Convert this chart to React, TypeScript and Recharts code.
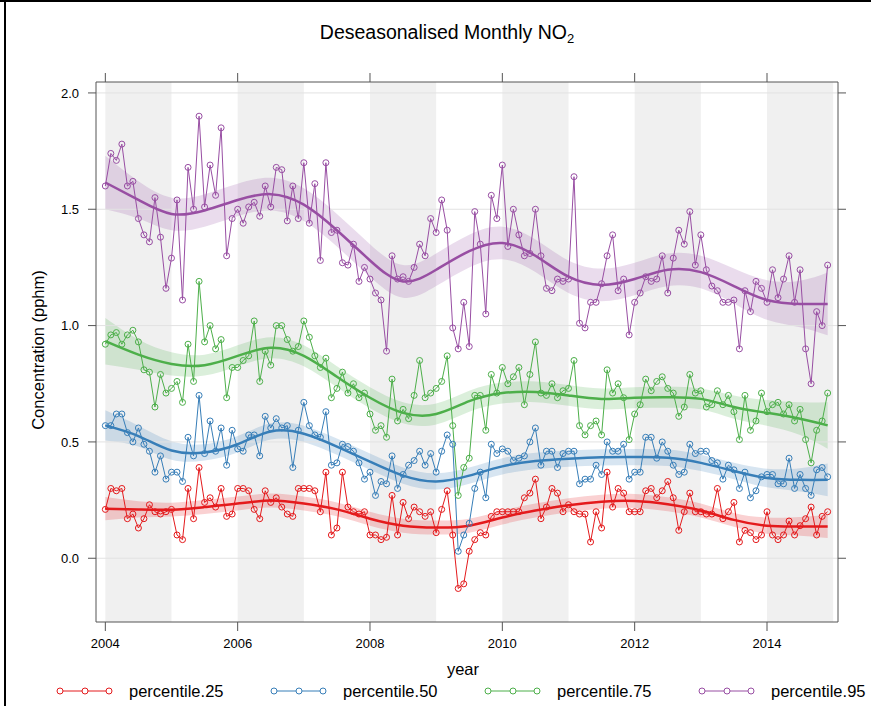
import React from 'react';
import { ComposedChart, Line, Area, XAxis, YAxis, ReferenceArea, ReferenceLine } from 'recharts';

// monthly deseasonalised values, Jan 2004 .. Dec 2014
const startYear = 2004;

const p25 = [
  0.21, 0.30, 0.29, 0.30, 0.17, 0.19, 0.13, 0.17, 0.23, 0.20, 0.19, 0.20,
  0.21, 0.10, 0.08, 0.30, 0.17, 0.39, 0.24, 0.26, 0.22, 0.30, 0.18, 0.19,
  0.30, 0.30, 0.29, 0.21, 0.17, 0.29, 0.24, 0.26, 0.22, 0.19, 0.18, 0.30,
  0.30, 0.30, 0.29, 0.20, 0.37, 0.10, 0.13, 0.37, 0.22, 0.20, 0.19, 0.20,
  0.10, 0.10, 0.08, 0.09, 0.27, 0.10, 0.24, 0.17, 0.22, 0.20, 0.18, 0.20,
  0.11, 0.21, 0.29, 0.10, -0.13, -0.11, 0.03, 0.08, 0.11, 0.10, 0.18, 0.20,
  0.20, 0.20, 0.20, 0.20, 0.26, 0.28, 0.34, 0.17, 0.22, 0.30, 0.28, 0.20,
  0.23, 0.20, 0.19, 0.19, 0.07, 0.20, 0.13, 0.37, 0.22, 0.30, 0.28, 0.20,
  0.20, 0.20, 0.29, 0.30, 0.26, 0.29, 0.33, 0.26, 0.12, 0.20, 0.28, 0.20,
  0.20, 0.19, 0.19, 0.30, 0.17, 0.20, 0.24, 0.07, 0.12, 0.11, 0.08, 0.10,
  0.20, 0.10, 0.08, 0.10, 0.16, 0.10, 0.14, 0.17, 0.22, 0.10, 0.18, 0.20,
];

const p50 = [
  0.57, 0.57, 0.62, 0.62, 0.54, 0.50, 0.56, 0.49, 0.46, 0.37, 0.44, 0.34,
  0.37, 0.37, 0.33, 0.52, 0.44, 0.70, 0.45, 0.59, 0.46, 0.56, 0.40, 0.55,
  0.47, 0.46, 0.53, 0.53, 0.44, 0.61, 0.56, 0.60, 0.56, 0.57, 0.39, 0.55,
  0.67, 0.57, 0.53, 0.52, 0.63, 0.40, 0.41, 0.49, 0.48, 0.46, 0.41, 0.34,
  0.37, 0.27, 0.33, 0.32, 0.44, 0.30, 0.36, 0.40, 0.42, 0.46, 0.40, 0.45,
  0.37, 0.46, 0.53, 0.49, 0.03, 0.10, 0.15, 0.30, 0.37, 0.26, 0.49, 0.45,
  0.47, 0.46, 0.42, 0.43, 0.44, 0.50, 0.56, 0.40, 0.46, 0.46, 0.39, 0.45,
  0.46, 0.46, 0.32, 0.34, 0.34, 0.40, 0.36, 0.50, 0.46, 0.46, 0.49, 0.34,
  0.37, 0.37, 0.52, 0.52, 0.43, 0.50, 0.46, 0.40, 0.36, 0.37, 0.49, 0.45,
  0.46, 0.46, 0.42, 0.41, 0.34, 0.40, 0.38, 0.30, 0.37, 0.26, 0.29, 0.35,
  0.36, 0.36, 0.32, 0.32, 0.43, 0.30, 0.36, 0.30, 0.27, 0.38, 0.39, 0.35,
];

const p75 = [
  0.92, 0.96, 0.97, 0.92, 0.96, 0.98, 0.93, 0.81, 0.80, 0.65, 0.79, 0.71,
  0.73, 0.76, 0.67, 0.92, 0.76, 1.19, 0.93, 1.00, 0.90, 0.94, 0.69, 0.82,
  0.82, 0.85, 0.87, 1.02, 0.76, 0.89, 0.83, 1.00, 1.00, 0.94, 0.89, 0.91,
  1.02, 0.95, 0.87, 0.82, 0.86, 0.69, 0.73, 0.80, 0.71, 0.75, 0.69, 0.71,
  0.62, 0.55, 0.57, 0.52, 0.77, 0.59, 0.64, 0.60, 0.70, 0.85, 0.69, 0.71,
  0.73, 0.76, 0.87, 0.57, 0.27, 0.39, 0.43, 0.70, 0.70, 0.55, 0.79, 0.71,
  0.82, 0.75, 0.78, 0.82, 0.66, 0.79, 0.93, 0.71, 0.70, 0.75, 0.69, 0.72,
  0.73, 0.85, 0.57, 0.53, 0.57, 0.59, 0.53, 0.81, 0.71, 0.75, 0.69, 0.51,
  0.62, 0.66, 0.77, 0.72, 0.76, 0.78, 0.73, 0.71, 0.61, 0.65, 0.79, 0.71,
  0.72, 0.65, 0.66, 0.72, 0.66, 0.70, 0.63, 0.51, 0.70, 0.55, 0.59, 0.71,
  0.63, 0.66, 0.67, 0.62, 0.66, 0.59, 0.64, 0.51, 0.41, 0.55, 0.59, 0.71,
];

const p95 = [
  1.60, 1.74, 1.71, 1.78, 1.60, 1.62, 1.46, 1.39, 1.36, 1.55, 1.38, 1.16,
  1.29, 1.54, 1.11, 1.68, 1.50, 1.90, 1.51, 1.69, 1.56, 1.85, 1.30, 1.46,
  1.50, 1.44, 1.51, 1.53, 1.47, 1.60, 1.51, 1.68, 1.67, 1.45, 1.60, 1.46,
  1.70, 1.44, 1.61, 1.28, 1.70, 1.40, 1.41, 1.27, 1.26, 1.35, 1.19, 1.25,
  1.20, 1.14, 1.11, 0.89, 1.30, 1.20, 1.21, 1.19, 1.25, 1.35, 1.30, 1.46,
  1.40, 1.54, 1.41, 0.99, 0.90, 1.10, 0.91, 1.49, 1.35, 1.05, 1.56, 1.46,
  1.69, 1.34, 1.50, 1.39, 1.30, 1.31, 1.50, 1.30, 1.16, 1.15, 1.20, 1.19,
  1.20, 1.64, 1.01, 0.99, 1.10, 1.10, 1.18, 1.30, 1.39, 1.15, 1.20, 0.96,
  1.10, 1.14, 1.21, 1.19, 1.20, 1.30, 1.14, 1.29, 1.41, 1.35, 1.49, 1.26,
  1.39, 1.24, 1.17, 1.15, 1.10, 1.10, 1.11, 0.90, 1.15, 1.06, 1.19, 1.16,
  1.10, 1.24, 1.12, 1.20, 1.30, 1.10, 1.24, 0.90, 0.75, 1.06, 1.00, 1.26,
];

// smooth trend (every half year) and half width of its confidence band
const smoothYears = [
  2004, 2004.5, 2005, 2005.5, 2006, 2006.5, 2007, 2007.5, 2008, 2008.5, 2009, 2009.5,
  2010, 2010.5, 2011, 2011.5, 2012, 2012.5, 2013, 2013.5, 2014, 2014.5, 2014.917,
];
const fit25 = [0.213, 0.21, 0.209, 0.22, 0.235, 0.248, 0.235, 0.21, 0.17, 0.14, 0.132, 0.14,
  0.175, 0.205, 0.228, 0.243, 0.246, 0.232, 0.205, 0.165, 0.14, 0.137, 0.137];
const ci25 = [0.05, 0.035, 0.03, 0.03, 0.03, 0.03, 0.03, 0.03, 0.03, 0.03, 0.03, 0.03,
  0.03, 0.03, 0.03, 0.03, 0.03, 0.03, 0.03, 0.03, 0.035, 0.04, 0.05];
const fit50 = [0.571, 0.525, 0.463, 0.455, 0.49, 0.545, 0.535, 0.48, 0.415, 0.355, 0.33, 0.355,
  0.395, 0.418, 0.428, 0.434, 0.435, 0.432, 0.41, 0.375, 0.345, 0.337, 0.337];
const ci50 = [0.065, 0.045, 0.04, 0.035, 0.035, 0.035, 0.035, 0.035, 0.035, 0.035, 0.035, 0.035,
  0.035, 0.035, 0.035, 0.035, 0.035, 0.035, 0.035, 0.035, 0.04, 0.05, 0.07];
const fit75 = [0.933, 0.875, 0.835, 0.83, 0.87, 0.905, 0.87, 0.78, 0.69, 0.625, 0.62, 0.675,
  0.71, 0.715, 0.70, 0.685, 0.69, 0.692, 0.685, 0.65, 0.625, 0.60, 0.571];
const ci75 = [0.1, 0.065, 0.05, 0.045, 0.045, 0.045, 0.045, 0.045, 0.045, 0.045, 0.045, 0.045,
  0.045, 0.045, 0.045, 0.045, 0.045, 0.045, 0.045, 0.05, 0.055, 0.07, 0.1];
const fit95 = [1.615, 1.54, 1.48, 1.495, 1.54, 1.565, 1.52, 1.41, 1.28, 1.19, 1.24, 1.32,
  1.355, 1.30, 1.21, 1.175, 1.20, 1.24, 1.23, 1.17, 1.11, 1.093, 1.093];
const ci95 = [0.115, 0.08, 0.07, 0.07, 0.07, 0.07, 0.07, 0.07, 0.07, 0.07, 0.07, 0.07,
  0.07, 0.07, 0.07, 0.07, 0.07, 0.07, 0.07, 0.075, 0.085, 0.1, 0.135];

const xTicks = [2004, 2006, 2008, 2010, 2012, 2014];
const yTicks = [0, 0.5, 1, 1.5, 2];
const shadedYears = [2004, 2006, 2008, 2010, 2012, 2014];

const X_MIN = 2003.859;
const X_MAX = 2015.073;
const Y_MIN = -0.274;
const Y_MAX = 2.047;

const series = [
  { key: 'p25', name: 'percentile.25', color: '#E41A1C', fit: fit25, ci: ci25 },
  { key: 'p50', name: 'percentile.50', color: '#377EB8', fit: fit50, ci: ci50 },
  { key: 'p75', name: 'percentile.75', color: '#4DAF4A', fit: fit75, ci: ci75 },
  { key: 'p95', name: 'percentile.95', color: '#984EA3', fit: fit95, ci: ci95 },
];

const monthly = p25.map((v, i) => ({
  date: startYear + i / 12,
  p25: v,
  p50: p50[i],
  p75: p75[i],
  p95: p95[i],
}));

const smooth = smoothYears.map((d, i) => {
  const row: Record<string, any> = { date: d };
  series.forEach((s) => {
    row['fit_' + s.key] = s.fit[i];
    row['ci_' + s.key] = [s.fit[i] - s.ci[i], s.fit[i] + s.ci[i]];
  });
  return row;
});

const font = "'Liberation Sans', Arial, sans-serif";
const frame = '#555555';
const noTick = () => <g />;

const LegendKey = ({ color }: { color: string }) => (
  <svg width={58} height={12} style={{ display: 'block' }}>
    <line x1={3} y1={6} x2={55} y2={6} stroke={color} strokeWidth={1} />
    {[4, 29, 53].map((cx) => (
      <circle key={cx} cx={cx} cy={6} r={3} fill="white" stroke={color} strokeWidth={1} />
    ))}
  </svg>
);

export default function App() {
  return (
    <div
      style={{
        position: 'absolute',
        left: 0,
        top: 0,
        width: 871,
        height: 706,
        background: 'white',
        fontFamily: font,
        overflow: 'hidden',
      }}
    >
      {/* outer frame (top and left edges only) */}
      <div style={{ position: 'absolute', left: 0, top: 0, width: 871, height: 2, background: '#000' }} />
      <div style={{ position: 'absolute', left: 4, top: 0, width: 2, height: 706, background: '#000' }} />

      <div
        style={{
          position: 'absolute',
          left: 247,
          top: 20,
          width: 400,
          textAlign: 'center',
          fontSize: 19.5,
          color: '#000',
          lineHeight: '24px',
        }}
      >
        Deseasonalised Monthly NO<sub style={{ fontSize: 13, verticalAlign: -4, lineHeight: 0 }}>2</sub>
      </div>

      <ComposedChart
        width={871}
        height={706}
        data={monthly}
        margin={{ top: 72, right: 23, bottom: 54, left: 40 }}
        style={{ position: 'absolute', left: 0, top: 0 }}
      >
        <XAxis
          dataKey="date"
          type="number"
          domain={[X_MIN, X_MAX]}
          allowDataOverflow
          ticks={xTicks}
          tickSize={9}
          tickMargin={8}
          height={30}
          stroke={frame}
          tick={{ fill: '#000', fontSize: 13, fontFamily: font }}
        />
        <XAxis
          xAxisId="top"
          orientation="top"
          dataKey="date"
          type="number"
          domain={[X_MIN, X_MAX]}
          allowDataOverflow
          ticks={xTicks}
          tickSize={9}
          height={10}
          stroke={frame}
          tick={noTick}
        />
        <YAxis
          type="number"
          domain={[Y_MIN, Y_MAX]}
          allowDataOverflow
          ticks={yTicks}
          tickFormatter={(v: number) => v.toFixed(1)}
          tickSize={8}
          tickMargin={9}
          width={56}
          stroke={frame}
          tick={{ fill: '#000', fontSize: 13, fontFamily: font }}
        />
        <YAxis
          yAxisId="right"
          orientation="right"
          type="number"
          domain={[Y_MIN, Y_MAX]}
          allowDataOverflow
          ticks={yTicks}
          tickSize={8}
          width={10}
          stroke={frame}
          tick={noTick}
        />

        {shadedYears.map((y) => (
          <ReferenceArea
            key={y}
            x1={y}
            x2={Math.min(y + 1, X_MAX)}
            y1={Y_MIN}
            y2={Y_MAX}
            fill="#f0f0f0"
            fillOpacity={1}
            stroke="none"
            ifOverflow="hidden"
          />
        ))}
        {yTicks.map((v) => (
          <ReferenceLine key={v} y={v} stroke="#e2e2e2" strokeWidth={1} />
        ))}

        {series.map((s) => (
          <Area
            key={'ci' + s.key}
            data={smooth}
            dataKey={'ci_' + s.key}
            type="natural"
            stroke="none"
            fill={s.color}
            fillOpacity={0.2}
            isAnimationActive={false}
            activeDot={false}
          />
        ))}
        {series.map((s) => (
          <Line
            key={s.key}
            dataKey={s.key}
            type="linear"
            stroke={s.color}
            strokeWidth={1}
            dot={{ r: 3, fill: 'none', stroke: s.color, strokeWidth: 1 }}
            activeDot={false}
            isAnimationActive={false}
          />
        ))}
        {series.map((s) => (
          <Line
            key={'fit' + s.key}
            data={smooth}
            dataKey={'fit_' + s.key}
            type="natural"
            stroke={s.color}
            strokeWidth={2.5}
            dot={false}
            activeDot={false}
            isAnimationActive={false}
          />
        ))}
      </ComposedChart>

      {/* axis titles */}
      <div
        style={{
          position: 'absolute',
          left: 38 - 120,
          top: 350 - 10,
          width: 240,
          height: 20,
          lineHeight: '20px',
          textAlign: 'center',
          fontSize: 16.5,
          transform: 'rotate(-90deg)',
          color: '#000',
        }}
      >
        Concentration (pphm)
      </div>
      <div
        style={{
          position: 'absolute',
          left: 463 - 50,
          top: 659,
          width: 100,
          textAlign: 'center',
          fontSize: 16.5,
          lineHeight: '20px',
          color: '#000',
        }}
      >
        year
      </div>

      {/* legend */}
      {series.map((s, i) => (
        <div
          key={'lg' + s.key}
          style={{
            position: 'absolute',
            left: 56 + i * 214,
            top: 681,
            height: 20,
            display: 'flex',
            alignItems: 'center',
            fontSize: 16.5,
            color: '#000',
            whiteSpace: 'nowrap',
          }}
        >
          <LegendKey color={s.color} />
          <span style={{ marginLeft: 15 }}>{s.name}</span>
        </div>
      ))}
    </div>
  );
}
